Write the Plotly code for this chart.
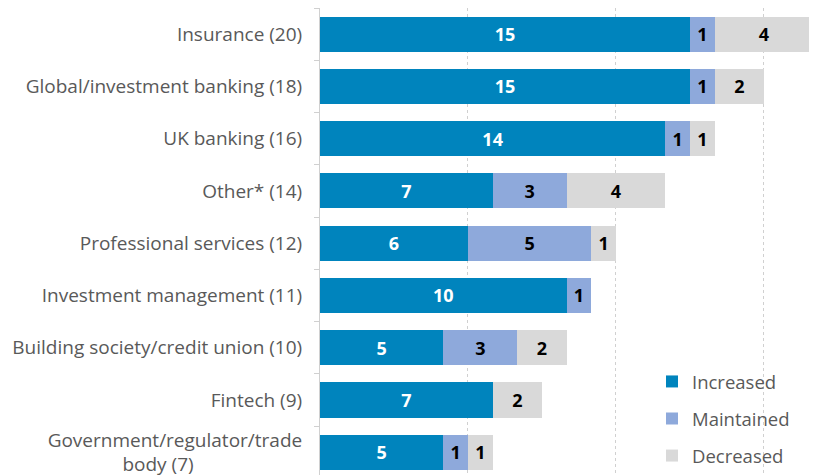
import plotly.graph_objects as go

NB = "\u00a0"
categories = [
    "Insurance (20)",
    "Global/investment banking (18)",
    "UK banking (16)",
    "Other* (14)",
    "Professional services (12)",
    "Investment management (11)",
    "Building society/credit union (10)",
    "Fintech (9)",
    "Government/regulator/trade<br>body (7)" + NB * 22,
]
increased = [15, 15, 14, 7, 6, 10, 5, 7, 5]
maintained = [1, 1, 1, 3, 5, 1, 3, 0, 1]
decreased = [4, 2, 1, 4, 1, 0, 2, 2, 1]

series = [
    ("Increased", increased, "#0084BD", "white"),
    ("Maintained", maintained, "#8EA9DB", "black"),
    ("Decreased", decreased, "#D9D9D9", "black"),
]

FONT = "Open Sans"
fig = go.Figure()
for i, (name, vals, color, tcolor) in enumerate(series):
    fig.add_trace(go.Bar(
        y=categories, x=vals, name=name, orientation="h",
        marker=dict(color=color, line=dict(width=0)),
        text=[str(v) if v else "" for v in vals],
        textposition="inside", insidetextanchor="middle",
        textfont=dict(family=FONT, size=18, color=tcolor, weight="bold"),
        legendgroup=f"g{i}",
    ))

# page has an 8px body margin, so the figure is sized to end at the window edge
fig.update_layout(
    barmode="stack", bargap=0.33,
    width=809, height=467,
    margin=dict(l=312, r=0, t=0, b=0, autoexpand=False),
    paper_bgcolor="white", plot_bgcolor="white",
    font=dict(family=FONT, size=19, color="#595959"),
    uniformtext=dict(mode="show", minsize=10),
    legend=dict(
        x=0.668, y=0.24, xanchor="left", yanchor="top",
        traceorder="grouped", tracegroupgap=10,
        font=dict(family=FONT, size=18.5, color="#595959"),
        bgcolor="rgba(0,0,0,0)",
    ),
    xaxis=dict(
        range=[0, 20.15], dtick=6, showticklabels=False,
        showgrid=True, gridcolor="#D0D0D0", griddash="dot", gridwidth=1,
        zeroline=False, showline=False,
    ),
    yaxis=dict(
        categoryorder="array", categoryarray=categories,
        range=[8.435, -0.5],
        showline=True, linecolor="#D0D0D0", linewidth=1,
        ticks="outside", tickson="boundaries", ticklen=5, tickcolor="#D0D0D0",
        ticklabelstandoff=13,
        showgrid=False,
    ),
)
fig.write_html("out.html")
